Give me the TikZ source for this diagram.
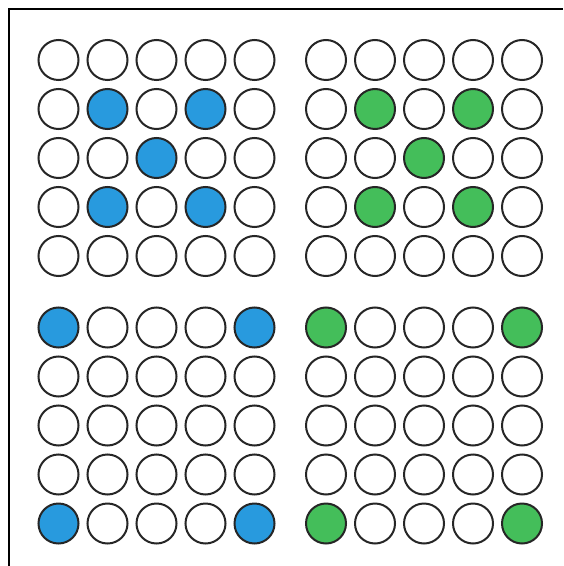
\documentclass[tikz,border=0pt]{standalone}
\usetikzlibrary{shapes.geometric}
\definecolor{dotblue}{RGB}{40,154,222}
\definecolor{dotgreen}{RGB}{68,190,90}
\tikzstyle{hole} = [
    circle,
    minimum size=10mm,
    inner sep=0pt,
    line width=0.5mm,
    draw=black!85
]
\tikzstyle{frame} = [line width=0.5mm, draw=black]

\begin{document}
\begin{tikzpicture}[x=0.25mm, y=-0.25mm]

\useasboundingbox (0,0) rectangle (563,566);

\coordinate (frametop) at (563,9.5);
\coordinate (framecorner) at (8.5,9.5);
\coordinate (framebottom) at (8.5,566);
\draw [frame] (framebottom) -- (framecorner) -- (frametop);

% panel name / first column / first row / colour / 1 = cross, 0 = corners
\foreach \p/\px/\py/\col/\cross in {tl/58.5/60/dotblue/1, tr/326/60/dotgreen/1,
                                    bl/58.5/327.5/dotblue/0, br/326/327.5/dotgreen/0} {
  \foreach \r in {1,...,5} {
    \foreach \c in {1,...,5} {
      \pgfmathtruncatemacro\on{\cross*((mod(\r,2)==0 && mod(\c,2)==0) || (\r==3 && \c==3))
                               + (1-\cross)*((\r==1 || \r==5) && (\c==1 || \c==5))}
      \ifnum\on=1 \edef\holefill{\col}\else\def\holefill{white}\fi
      \node (\p-\r-\c) [hole, fill=\holefill] at (\px+49*\c-49, \py+49*\r-49) {};
    }
  }
}

\end{tikzpicture}
\end{document}
